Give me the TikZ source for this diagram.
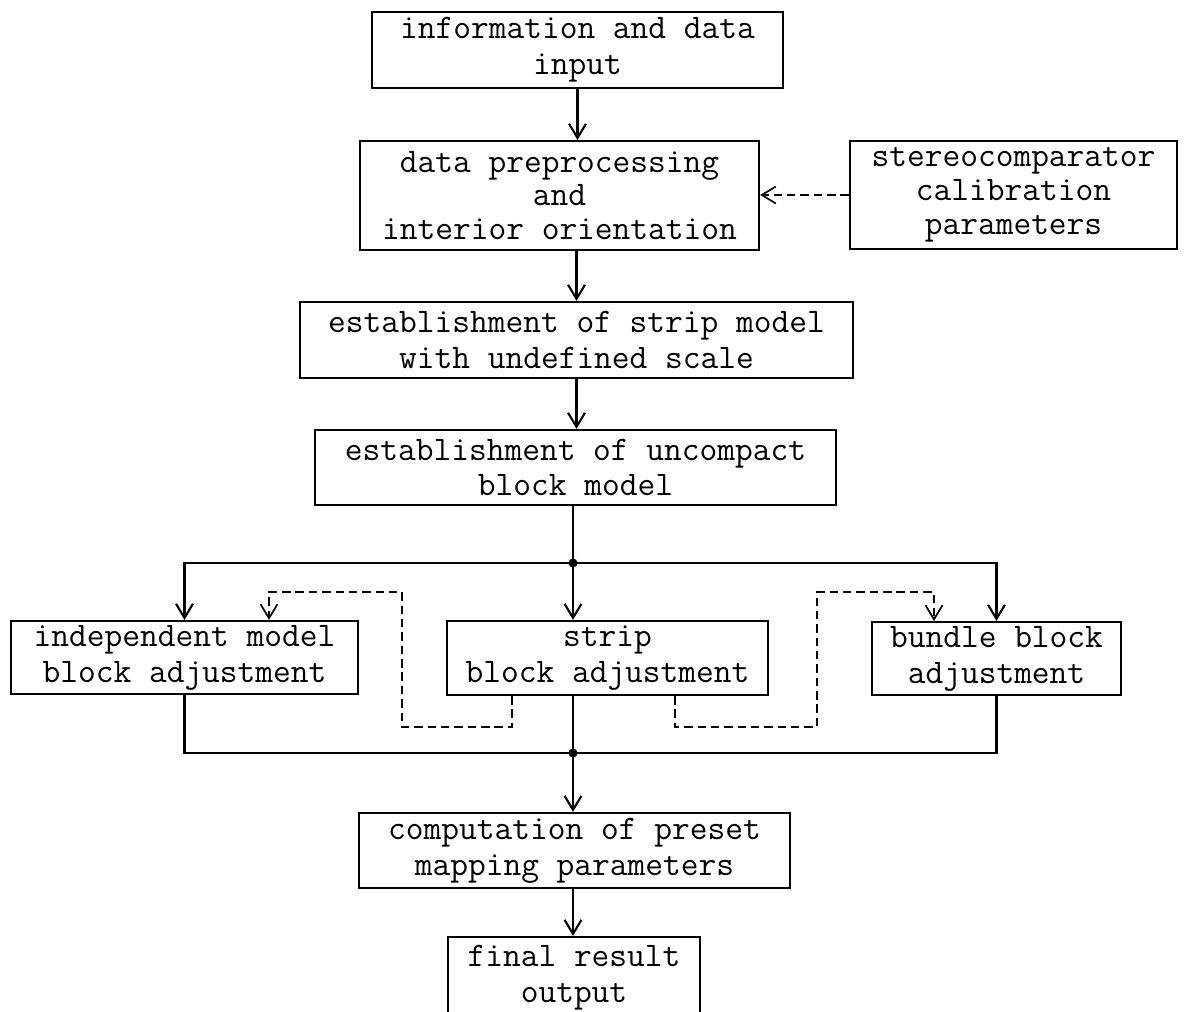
\documentclass[tikz,border=0pt]{standalone}
\usetikzlibrary{arrows.meta}
\begin{document}
\begin{tikzpicture}[x=0.025cm,y=-0.025cm,
 box/.style={draw, line width=1.5pt, inner sep=0pt, align=center, font=\fontsize{24.5}{25.5}\selectfont\ttfamily},
 box3l/.style={box, font=\fontsize{24.5}{24}\selectfont\ttfamily},
 link/.style={line width=1.5pt},
 arr/.style={link, -{Straight Barb[length=10pt,width=12pt]}},
 dsh/.style={line width=1.2pt, dash pattern=on 6pt off 3.5pt},
 darr/.style={dsh, -{Straight Barb[length=10pt,width=12pt]}},
 jdot/.style={circle, fill, inner sep=0pt, minimum size=6.5pt}]
\useasboundingbox (0,0) rectangle (1184,1012);
\clip (0,0) rectangle (1184,1012);

\node[box, minimum width=10.275cm, minimum height=1.9cm] (b1) at (577.5,50) {information and data\\input};
\node[box3l, minimum width=9.975cm, minimum height=2.725cm] (b2) at (559.5,195.5) {data preprocessing\\and\\interior orientation};
\node[box3l, minimum width=8.175cm, minimum height=2.7cm] (b3) at (1013.5,195) {stereocomparator\\calibration\\parameters};
\node[box, minimum width=13.825cm, minimum height=1.9cm] (b4) at (576.5,340) {establishment of strip model\\with undefined scale};
\node[box, minimum width=13.025cm, minimum height=1.875cm] (b5) at (575.5,467.5) {establishment of uncompact\\block model};
\node[box, minimum width=8.675cm, minimum height=1.825cm] (b6) at (184.5,657.5) {independent model\\block adjustment};
\node[box, minimum width=8.025cm, minimum height=1.85cm] (b7) at (607.5,658) {strip\\block adjustment};
\node[box, minimum width=6.225cm, minimum height=1.825cm] (b8) at (996.5,658.5) {bundle block\\adjustment};
\node[box, minimum width=10.775cm, minimum height=1.875cm] (b9) at (574.5,850.5) {computation of preset\\mapping parameters};
\node[box, minimum width=6.3cm, minimum height=2.05cm] (b10) at (574,978) {final result\\output};

\node[jdot] (J1) at (573,563) {};
\node[jdot] (J2) at (573,753) {};

\draw[arr] (b1.south) -- (b1.south |- b2.north);
\draw[darr] (b3.west) -- (b3.west -| b2.east);
\draw[arr] (b4.north |- b2.south) -- (b4.north);
\draw[arr] (b4.south) -- (b4.south |- b5.north);
\draw[link] (b5.south -| J1) -- (J1.center);

\coordinate (L1) at (b6.north |- J1);
\coordinate (R1) at (b8.north |- J1);
\draw[arr] (J1.center) -- (L1) -- (b6.north);
\draw[arr] (J1.center) -- (R1) -- (b8.north);
\draw[arr] (J1.center) -- (J1 |- b7.north);

\draw[link] (b6.south) -- (b6.south |- J2) -- (b8.south |- J2) -- (b8.south);
\draw[link] (b7.south -| J2) -- (J2.center);
\draw[arr] (J2.center) -- (J2 |- b9.north);
\draw[arr] (J2 |- b9.south) -- (J2 |- b10.north);

\coordinate (dA) at (512,727);
\coordinate (dB) at (402,727);
\coordinate (dC) at (402,592);
\coordinate (dD) at (269,592);
\draw[darr] (b7.south -| dA) -- (dA) -- (dB) -- (dC) -- (dD) -- (dD |- b6.north);

\coordinate (dE) at (675,727);
\coordinate (dF) at (817,727);
\coordinate (dG) at (817,592);
\coordinate (dH) at (934,592);
\draw[darr] (b7.south -| dE) -- (dE) -- (dF) -- (dG) -- (dH) -- (dH |- b8.north);
\end{tikzpicture}
\end{document}
